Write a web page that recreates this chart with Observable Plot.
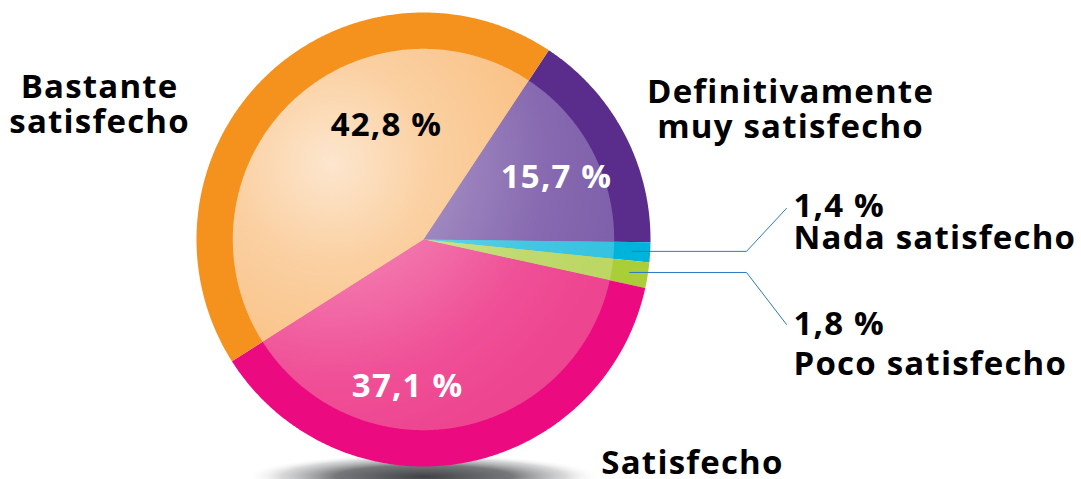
<!DOCTYPE html>
<html><head><meta charset="utf-8">
<script src="https://cdn.jsdelivr.net/npm/d3@7"></script>
<script src="https://cdn.jsdelivr.net/npm/@observablehq/plot@0.6"></script>
<style>
html,body{margin:0;padding:0;background:#fff;overflow:hidden}
#chart svg{display:block}
#chart svg text{letter-spacing:1.2px}
</style></head><body>
<svg width="0" height="0" style="position:absolute">
 <defs>
  <radialGradient id="hl" cx="0.26" cy="0.30" r="0.75">
   <stop offset="0" stop-color="#ffffff" stop-opacity="0.62"/>
   <stop offset="0.35" stop-color="#ffffff" stop-opacity="0.28"/>
   <stop offset="0.75" stop-color="#ffffff" stop-opacity="0.06"/>
   <stop offset="1" stop-color="#ffffff" stop-opacity="0"/>
  </radialGradient>
  <radialGradient id="shadow" cx="0.5" cy="0.5" r="0.5">
   <stop offset="0" stop-color="#3f4144" stop-opacity="1"/>
   <stop offset="0.5" stop-color="#5d5f62" stop-opacity="0.85"/>
   <stop offset="0.8" stop-color="#9a9c9e" stop-opacity="0.4"/>
   <stop offset="1" stop-color="#ffffff" stop-opacity="0"/>
  </radialGradient>
 </defs>
</svg>
<div id="chart"></div>
<script>
// ---- data ----
const categories = ["Definitivamente muy satisfecho", "Nada satisfecho", "Poco satisfecho", "Satisfecho", "Bastante satisfecho"];
const values = [15.7, 1.4, 1.8, 37.1, 42.8];
const valueLabels = ["15,7 %", "1,4 %", "1,8 %", "37,1 %", "42,8 %"];
const nameLabels = ["Definitivamente\nmuy satisfecho", "Nada satisfecho", "Poco satisfecho", "Satisfecho", "Bastante\nsatisfecho"];

// ---- style / layout ----
const outerColors = ["#5a2d8c", "#00b3da", "#a9ce37", "#eb0a80", "#f5921e"];
const innerColors = ["#7f60ab", "#36c3e1", "#bcd764", "#ee4590", "#f9be7e"];
const valueColors = ["#fff", "#000", "#000", "#fff", "#000"];
const W = 1081, H = 479, CX = 423, CY = 239, R = 227;   // pixels
const INNER = 0.84;                 // inner light disc, in radii
const START = 33.5 * Math.PI / 180; // first slice boundary, clockwise from top
const FONT = "Open Sans";
const FS = 33;

// text placements in pie-radius units (x right, y up, origin pie centre); y = last baseline
const valuePos = [
  {x: 0.586, y: 0.225, anchor: "middle"},
  {x: 1.630, y: 0.097, anchor: "start"},
  {x: 1.630, y: -0.419, anchor: "start"},
  {x: -0.070, y: -0.692, anchor: "middle"},
  {x: -0.163, y: 0.458, anchor: "middle"}
];
const namePos = [
  {x: 1.617, y: 0.449, anchor: "middle"},
  {x: 1.630, y: -0.044, anchor: "start"},
  {x: 1.630, y: -0.595, anchor: "start"},
  {x: 1.185, y: -1.031, anchor: "middle"},
  {x: -1.427, y: 0.471, anchor: "middle"}
];
const leaderElbowX = 1.423;
const leaderEnd = [null, [1.599, 0.137], [1.599, -0.374], null, null];

// ---- geometry ----
const pie = d3.pie().sort(null).value(d => d).startAngle(START).endAngle(START + 2 * Math.PI)(values);
function sector(i, rho) {
  const {startAngle: a0, endAngle: a1} = pie[i];
  const n = Math.max(2, Math.ceil((a1 - a0) / (Math.PI / 360)));
  const pts = [{x: 0, y: 0}];
  for (let j = 0; j <= n; j++) {
    const a = a0 + (a1 - a0) * j / n;
    pts.push({x: rho * Math.sin(a), y: rho * Math.cos(a)});
  }
  return pts;
}
function ellipse(cx, cy, rx, ry) {
  return d3.range(0, 361, 2).map(t => ({x: cx + rx * Math.cos(t * Math.PI / 180), y: cy + ry * Math.sin(t * Math.PI / 180)}));
}
const circle = ellipse(0, 0, INNER, INNER);
const shadow = ellipse(0, -1.045, 0.78, 0.1);

const leaders = [];
categories.forEach((c, i) => {
  if (!leaderEnd[i]) return;
  const a = (pie[i].startAngle + pie[i].endAngle) / 2;
  const sx = 0.92 * Math.sin(a), sy = 0.92 * Math.cos(a);
  leaders.push({k: i, x: sx, y: sy}, {k: i, x: leaderElbowX, y: sy}, {k: i, x: leaderEnd[i][0], y: leaderEnd[i][1]});
});

const textData = [
  ...categories.map((c, i) => ({text: nameLabels[i], ...namePos[i], fill: "#000"})),
  ...categories.map((c, i) => ({text: valueLabels[i], ...valuePos[i], fill: valueColors[i]}))
];

const marks = [
  Plot.line(shadow, {x: "x", y: "y", fill: "url(#shadow)", stroke: "none", curve: "linear-closed"}),
  ...categories.map((c, i) => Plot.line(sector(i, 1), {x: "x", y: "y", fill: outerColors[i], stroke: "none", curve: "linear-closed"})),
  ...categories.map((c, i) => Plot.line(sector(i, INNER), {x: "x", y: "y", fill: innerColors[i], stroke: "none", curve: "linear-closed"})),
  Plot.line(circle, {x: "x", y: "y", fill: "url(#hl)", stroke: "none", curve: "linear-closed"}),
  Plot.line(leaders, {x: "x", y: "y", z: "k", stroke: "#2a7bc2", strokeWidth: 1}),
  ...["start", "middle"].map(anchor => Plot.text(textData.filter(d => d.anchor === anchor), {
    x: "x", y: "y", text: "text", fill: "fill", textAnchor: anchor, lineAnchor: "bottom", lineHeight: 1.05,
    fontSize: FS, fontWeight: "bold", fontFamily: FONT
  }))
];

const chart = Plot.plot({
  width: W, height: H,
  margin: 0,
  x: {domain: [-CX / R, (W - CX) / R], axis: null},
  y: {domain: [-(H - CY) / R, CY / R], axis: null},
  color: {type: "identity"},
  style: {background: "#fff", overflow: "visible"},
  marks
});
document.getElementById("chart").appendChild(chart);
</script>
</body></html>
